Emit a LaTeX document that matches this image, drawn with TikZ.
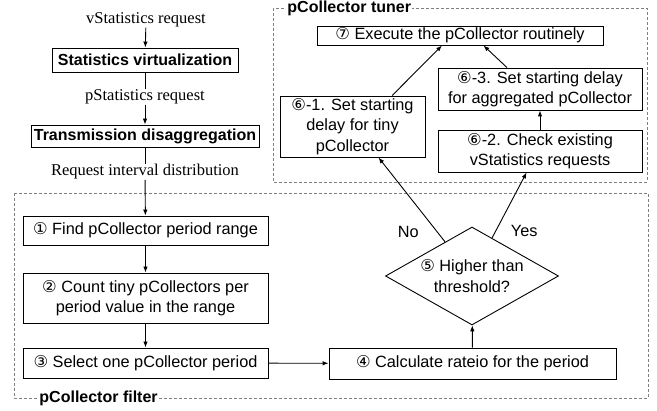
\documentclass[tikz,border=0pt]{standalone}
\usepackage{fontspec}
\setmainfont{Liberation Serif}
\setsansfont{Liberation Sans}
\newfontfamily\circfont{DejaVu Sans}
\usetikzlibrary{arrows.meta,shapes.geometric}
\newcommand{\cnum}[1]{{\circfont #1}}
\begin{document}
\begin{tikzpicture}[x=10pt,y=10pt,line width=0.9pt,>={Latex[length=6pt,width=4.5pt]}]
\tikzstyle{every node}+=[inner sep=0pt]
\tikzstyle{reqtext}=[font=\fontsize{16.5}{20}\selectfont]
\tikzstyle{headbox}=[draw,font=\sffamily\bfseries\fontsize{16}{20}\selectfont]
\tikzstyle{stepbox}=[draw,align=center,font=\sffamily\fontsize{16.3}{20.5}\selectfont]
\tikzstyle{grouptitle}=[fill=white,inner sep=1pt,font=\sffamily\bfseries\fontsize{16}{20}\selectfont]
\tikzstyle{groupframe}=[gray,line width=0.7pt,dash pattern=on 3pt off 2pt]
\tikzstyle{answer}=[font=\sffamily\fontsize{16.3}{20}\selectfont]
\useasboundingbox (0,0) rectangle (65.7,-41.1);

% pipeline on the left
\node[reqtext] (vreq) at (14.6,-2.0) {vStatistics request};
\node[headbox,minimum width=186pt,minimum height=24pt] (svirt) at (14.5,-6.0) {Statistics virtualization};
\node[reqtext] (preq) at (14.5,-9.7) {pStatistics request};
\node[headbox,minimum width=228pt,minimum height=22pt] (tdis) at (14.5,-13.6) {Transmission disaggregation};
\node[reqtext] (rid) at (14.5,-17.2) {Request interval distribution};

% filter
\draw[groupframe] (1.4,-19.3) rectangle (64.8,-39.8);
\node[grouptitle,anchor=west] (ftitle) at (3.8,-39.8) {pCollector filter};
\node[stepbox,minimum width=245pt,minimum height=29pt] (s1) at (14.55,-23.05) {\cnum{①} Find pCollector period range};
\node[stepbox,minimum width=245pt,minimum height=50pt] (s2) at (14.55,-29.8) {\cnum{②} Count tiny pCollectors per\\period value in the range};
\node[stepbox,minimum width=245pt,minimum height=30pt] (s3) at (14.55,-36.3) {\cnum{③} Select one pCollector period};
\node[stepbox,minimum width=287pt,minimum height=31pt] (s4) at (47.25,-36.35) {\cnum{④} Calculate rateio for the period};
\node[stepbox,shape=diamond,aspect=1.77,minimum width=173pt,minimum height=98pt] (s5) at (47.2,-27.6) {\cnum{⑤} Higher than\\threshold?};

% tuner
\draw[groupframe] (27.3,-0.8) rectangle (64.7,-18.2);
\node[grouptitle,anchor=west] (ttitle) at (28.6,-0.8) {pCollector tuner};
\node[stepbox,minimum width=145pt,minimum height=61pt] (s61) at (35.25,-12.65) {\cnum{⑥}-1. Set starting\\delay for tiny\\pCollector};
\node[stepbox,minimum width=204pt,minimum height=42pt] (s62) at (54.0,-15.1) {\cnum{⑥}-2. Check existing\\vStatistics requests};
\node[stepbox,minimum width=204pt,minimum height=42pt] (s63) at (54.0,-8.9) {\cnum{⑥}-3. Set starting delay\\for aggregated pCollector};
\node[stepbox,minimum width=286pt,minimum height=19pt] (s7) at (46.0,-3.55) {\cnum{⑦} Execute the pCollector routinely};

% connectors
\draw[->] (vreq) -- (svirt);
\draw (svirt) -- (preq);
\draw[->] (preq) -- (tdis);
\draw (tdis) -- (rid);
\draw[->] (rid) -- (s1);
\draw[->] (s1) -- (s2);
\draw[->] (s2) -- (s3);
\draw[->] (s3) -- (s4);
\draw[->] (s4) -- (s5);
\draw[->] (s5) -- (s61.-50) node[pos=0.12,left=18pt,answer] (no) {No};
\draw[->] (s5) -- (s62.-122) node[pos=0.1,right=15pt,answer] (yes) {Yes};
\draw[->] (s62) -- (s63);
\draw[->] (s63.147.5) -- (s7.-23.4);
\draw[->] (s61.38) -- (s7.209);
\end{tikzpicture}
\end{document}
